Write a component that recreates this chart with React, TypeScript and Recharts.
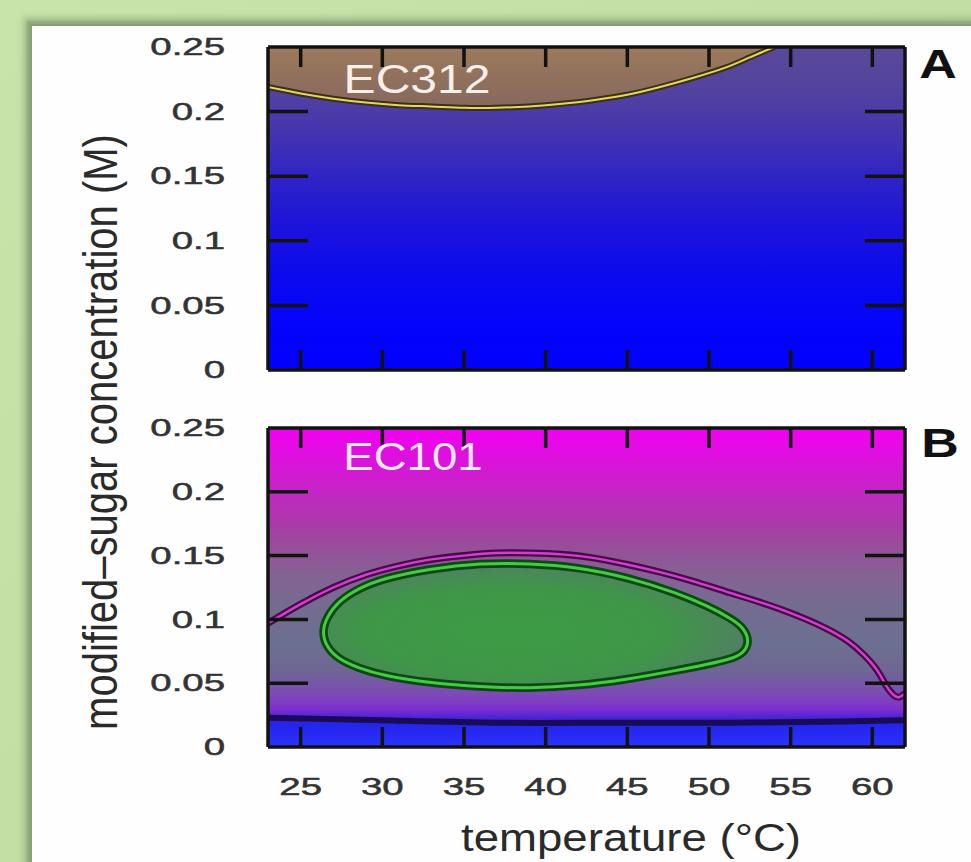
import React from 'react';
import { ComposedChart, XAxis, YAxis, CartesianGrid, Line, Area } from 'recharts';

// ---------- data ----------
const temperatureTicks = [25, 30, 35, 40, 45, 50, 55, 60];
const concentrationTicks = [0, 0.05, 0.1, 0.15, 0.2, 0.25];
const innerConcentrationTicks = [0.05, 0.1, 0.15, 0.2];
const temperatureDomain = [23, 62];
const concentrationDomain = [0, 0.25];

// Panel A (EC312) contour
const ec312T = [23, 25, 27, 29, 31, 33, 35, 37, 39, 41, 43, 45, 47, 49, 51, 52.5, 54];
const ec312C = [0.219, 0.214, 0.21, 0.207, 0.205, 0.204, 0.203, 0.203, 0.204, 0.206, 0.209, 0.213, 0.219, 0.226, 0.234, 0.242, 0.25];

// Panel B (EC101) outer magenta contour
const ec101OuterT = [23, 25, 27, 29, 31, 33, 35, 37, 39, 41, 43, 45, 47, 49, 51, 53, 55, 57, 58.5, 59.5, 60.3, 60.8, 61.2, 61.6, 62];
const ec101OuterC = [0.097, 0.112, 0.125, 0.135, 0.142, 0.147, 0.15, 0.152, 0.152, 0.151, 0.148, 0.143, 0.137, 0.13, 0.122, 0.114, 0.105, 0.094, 0.083, 0.072, 0.06, 0.049, 0.042, 0.039, 0.042];

// Panel B (EC101) inner green contour
const ec101InnerT = [26.3, 26.6, 27.3, 28.5, 30, 33, 36, 39, 42, 45, 48, 50, 51.3, 52.1, 52.5];
const ec101InnerUpper = [0.09, 0.102, 0.114, 0.124, 0.132, 0.14, 0.144, 0.144, 0.141, 0.133, 0.121, 0.11, 0.101, 0.094, 0.083];
const ec101InnerLower = [0.09, 0.078, 0.069, 0.062, 0.056, 0.05, 0.047, 0.046, 0.048, 0.053, 0.06, 0.065, 0.069, 0.073, 0.083];

// Panel B (EC101) low contour
const ec101LowT = [23, 30, 37, 44, 51, 58, 62];
const ec101LowC = [0.023, 0.021, 0.019, 0.019, 0.019, 0.02, 0.021];

// ---------- derived tables ----------
const ec312Line = ec312T.map((t, i) => ({ T: t, c: ec312C[i] }));
const ec312Fill = ec312T.map((t, i) => ({ T: t, range: [ec312C[i], concentrationDomain[1]] }));
const outerLine = ec101OuterT.map((t, i) => ({ T: t, c: ec101OuterC[i] }));
const innerLoop = [
  ...ec101InnerT.map((t, i) => ({ T: t, c: ec101InnerUpper[i] })).reverse(),
  ...ec101InnerT.map((t, i) => ({ T: t, c: ec101InnerLower[i] })).slice(1, -1),
];
const innerFill = ec101InnerT.map((t, i) => ({ T: t, range: [ec101InnerLower[i], ec101InnerUpper[i]] }));
const lowLine = ec101LowT.map((t, i) => ({ T: t, c: ec101LowC[i] }));

const FONT = '"Liberation Sans", Arial, Helvetica, sans-serif';

const YTick = (props: any) => {
  const { x, y, payload } = props;
  return (
    <g transform={`translate(${x},${y}) scale(1.6,1)`}>
      <text x={0} y={0} textAnchor="end" dominantBaseline="central" fontSize={24} fontFamily={FONT} fill="#333" stroke="#333" strokeWidth={0.5}>
        {payload.value}
      </text>
    </g>
  );
};

const XTick = (props: any) => {
  const { x, y, payload } = props;
  return (
    <g transform={`translate(${x},${y}) scale(1.6,1)`}>
      <text x={0} y={0} textAnchor="middle" dominantBaseline="central" fontSize={24} fontFamily={FONT} fill="#333" stroke="#333" strokeWidth={0.5}>
        {payload.value}
      </text>
    </g>
  );
};

const NoTick = () => <g />;

const axisLineStyle = { stroke: '#121212', strokeWidth: 3.5 };
const tickLineStyle = { stroke: '#121212', strokeWidth: 3.5 };

const TextAt = ({ x, y, sx = 1.2, size, weight = 'normal', color, children, rotate = false }: any) => (
  <div
    style={{
      position: 'absolute',
      left: x,
      top: y,
      width: 0,
      height: 0,
      transform: `scaleX(${sx})${rotate ? ' rotate(-90deg)' : ''}`,
      transformOrigin: '0 0',
    }}
  >
    <div
      style={{
        position: 'absolute',
        transform: 'translate(-50%,-50%)',
        whiteSpace: 'nowrap',
        fontFamily: FONT,
        fontSize: size,
        fontWeight: weight,
        color,
        lineHeight: 1,
      }}
    >
      {children}
    </div>
  </div>
);

const FrameAxes = () => [
  <XAxis key="bt" xAxisId="bt" dataKey="T" type="number" orientation="bottom" mirror domain={temperatureDomain} ticks={temperatureTicks} tick={<NoTick />} tickSize={20} axisLine={axisLineStyle} tickLine={tickLineStyle} allowDataOverflow />,
  <XAxis key="tp" xAxisId="tp" dataKey="T" type="number" orientation="top" mirror domain={temperatureDomain} ticks={temperatureTicks} tick={<NoTick />} tickSize={20} axisLine={axisLineStyle} tickLine={tickLineStyle} allowDataOverflow />,
  <YAxis key="lf" yAxisId="lf" type="number" orientation="left" mirror domain={concentrationDomain} ticks={innerConcentrationTicks} tick={<NoTick />} tickSize={40} axisLine={axisLineStyle} tickLine={tickLineStyle} allowDataOverflow />,
  <YAxis key="rt" yAxisId="rt" type="number" orientation="right" mirror domain={concentrationDomain} ticks={innerConcentrationTicks} tick={<NoTick />} tickSize={40} axisLine={axisLineStyle} tickLine={tickLineStyle} allowDataOverflow />,
];

export default function App() {
  return (
    <div
      style={{
        position: 'absolute',
        left: 0,
        top: 0,
        width: 971,
        height: 862,
        overflow: 'hidden',
        background: 'linear-gradient(135deg, #c9e4aa 0%, #bcd99c 100%)',
      }}
    >
      <div
        style={{
          position: 'absolute',
          left: 32,
          top: 26,
          width: 980,
          height: 880,
          background: '#fefefe',
          boxShadow: '-2px -2px 0 #86a073, -5px -5px 2px #90aa7c, -9px -9px 6px #a5c18e',
        }}
      />

      {/* Panel A */}
      <div style={{ position: 'absolute', left: 0, top: 0 }}>
        <ComposedChart width={971} height={400} margin={{ top: 47, right: 66, bottom: 30, left: 208 }}>
          <defs>
            <linearGradient id="bgA" x1="0" y1="0" x2="0" y2="1">
              <stop offset="0" stopColor="#5a4898" />
              <stop offset="0.12" stopColor="#54449e" />
              <stop offset="0.25" stopColor="#4636ae" />
              <stop offset="0.4" stopColor="#3024c4" />
              <stop offset="0.55" stopColor="#1c14dc" />
              <stop offset="0.7" stopColor="#0c0aee" />
              <stop offset="0.85" stopColor="#0404fa" />
              <stop offset="1" stopColor="#0000ff" />
            </linearGradient>
            <linearGradient id="brownA" x1="0" y1="0" x2="0" y2="1">
              <stop offset="0" stopColor="#9c7a5c" />
              <stop offset="1" stopColor="#86685e" />
            </linearGradient>
          </defs>
          <CartesianGrid xAxisId="lab" yAxisId="lab" horizontal={false} vertical={false} fill="url(#bgA)" />
          <XAxis xAxisId="lab" dataKey="T" type="number" domain={temperatureDomain} ticks={temperatureTicks} hide allowDataOverflow />
          <YAxis yAxisId="lab" type="number" width={60} domain={concentrationDomain} ticks={concentrationTicks} tick={<YTick />} tickSize={0} tickMargin={43} axisLine={false} tickLine={false} allowDataOverflow />
          {FrameAxes()}
          <Area xAxisId="lab" yAxisId="lab" data={ec312Fill} dataKey="range" type="natural" fill="url(#brownA)" fillOpacity={1} stroke="none" isAnimationActive={false} activeDot={false} />
          <Line xAxisId="lab" yAxisId="lab" data={ec312Line} dataKey="c" type="natural" stroke="#3a3212" strokeWidth={6} dot={false} activeDot={false} isAnimationActive={false} />
          <Line xAxisId="lab" yAxisId="lab" data={ec312Line} dataKey="c" type="natural" stroke="#e6d46a" strokeWidth={2} dot={false} activeDot={false} isAnimationActive={false} />
        </ComposedChart>
      </div>

      {/* Panel B */}
      <div style={{ position: 'absolute', left: 0, top: 380 }}>
        <ComposedChart width={971} height={482} margin={{ top: 48, right: 66, bottom: 55, left: 208 }}>
          <defs>
            <linearGradient id="bgB" x1="0" y1="0" x2="0" y2="1">
              <stop offset="0" stopColor="#f200f2" />
              <stop offset="0.1" stopColor="#dc12dc" />
              <stop offset="0.2" stopColor="#c426c4" />
              <stop offset="0.3" stopColor="#aa3aaa" />
              <stop offset="0.38" stopColor="#955098" />
              <stop offset="0.46" stopColor="#846294" />
              <stop offset="0.56" stopColor="#746c90" />
              <stop offset="0.68" stopColor="#6c7090" />
              <stop offset="0.76" stopColor="#6e6694" />
              <stop offset="0.83" stopColor="#7c4cb4" />
              <stop offset="0.88" stopColor="#8030d0" />
              <stop offset="0.915" stopColor="#4020d8" />
              <stop offset="0.93" stopColor="#2424ec" />
              <stop offset="1" stopColor="#2c34ff" />
            </linearGradient>
            <radialGradient id="greenB" cx="0.45" cy="0.55" r="0.6">
              <stop offset="0" stopColor="#3c9c44" />
              <stop offset="0.6" stopColor="#3f9648" />
              <stop offset="1" stopColor="#557a6a" />
            </radialGradient>
          </defs>
          <CartesianGrid xAxisId="lab" yAxisId="lab" horizontal={false} vertical={false} fill="url(#bgB)" />
          <XAxis xAxisId="lab" dataKey="T" type="number" orientation="bottom" height={60} domain={temperatureDomain} ticks={temperatureTicks} tick={<XTick />} tickSize={0} tickMargin={40} axisLine={false} tickLine={false} allowDataOverflow />
          <YAxis yAxisId="lab" type="number" width={60} domain={concentrationDomain} ticks={concentrationTicks} tick={<YTick />} tickSize={0} tickMargin={43} axisLine={false} tickLine={false} allowDataOverflow />
          {FrameAxes()}
          <Area xAxisId="lab" yAxisId="lab" data={innerFill} dataKey="range" type="natural" fill="url(#greenB)" fillOpacity={1} stroke="none" isAnimationActive={false} activeDot={false} />
          <Line xAxisId="lab" yAxisId="lab" data={lowLine} dataKey="c" type="natural" stroke="#180c58" strokeWidth={6} dot={false} activeDot={false} isAnimationActive={false} />
          <Line xAxisId="lab" yAxisId="lab" data={outerLine} dataKey="c" type="natural" stroke="#4a0a4a" strokeWidth={7} dot={false} activeDot={false} isAnimationActive={false} />
          <Line xAxisId="lab" yAxisId="lab" data={outerLine} dataKey="c" type="natural" stroke="#d040d0" strokeWidth={2.4} dot={false} activeDot={false} isAnimationActive={false} />
          <Line xAxisId="lab" yAxisId="lab" data={innerLoop} dataKey="c" type="basisClosed" stroke="#0a4a10" strokeWidth={8.5} dot={false} activeDot={false} isAnimationActive={false} />
          <Line xAxisId="lab" yAxisId="lab" data={innerLoop} dataKey="c" type="basisClosed" stroke="#48c848" strokeWidth={3} dot={false} activeDot={false} isAnimationActive={false} />
        </ComposedChart>
      </div>

      <TextAt x={417} y={79} size={40} sx={1.2} color="#f4efe8">EC312</TextAt>
      <TextAt x={413} y={457} size={38} sx={1.2} color="#f8e6f8">EC101</TextAt>
      <TextAt x={938} y={64} size={40} sx={1.3} weight="bold" color="#111">A</TextAt>
      <TextAt x={940} y={443} size={40} sx={1.3} weight="bold" color="#111">B</TextAt>
      <TextAt x={631} y={838} size={38} sx={1.2} color="#2a2a2a">temperature (°C)</TextAt>
      <TextAt x={100} y={432} size={40} sx={1.2} rotate color="#2a2a2a">modified–sugar concentration (M)</TextAt>
    </div>
  );
}
